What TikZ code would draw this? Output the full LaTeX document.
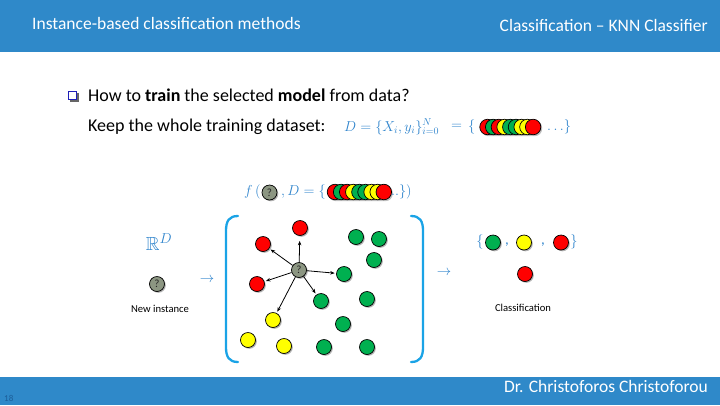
\documentclass[tikz,border=0pt]{standalone}
\usepackage{amssymb}
\usepackage{fontspec}
\setmainfont{Carlito}
\usetikzlibrary{arrows.meta,shadows}

\definecolor{barblue}{HTML}{2F89C9}
\definecolor{pageno}{HTML}{1C5E99}
\definecolor{mathblue}{HTML}{2F84CC}
\definecolor{brackcyan}{HTML}{1AA3E6}
\definecolor{ballred}{HTML}{FF0000}
\definecolor{ballgreen}{HTML}{00B050}
\definecolor{ballyellow}{HTML}{FFFF00}
\definecolor{qgray}{HTML}{8C9682}
\definecolor{bulletblue}{HTML}{1F1FB8}

\newcommand{\fs}[1]{\fontsize{#1}{#1}\selectfont}

\tikzset{
  ball/.style={circle, draw=black, line width=0.7pt, minimum size=15pt, inner sep=0pt,
    drop shadow={shadow xshift=1.3pt, shadow yshift=-1.3pt, opacity=0.3, fill=black}},
  rb/.style={ball, fill=ballred},
  gb/.style={ball, fill=ballgreen},
  yb/.style={ball, fill=ballyellow},
  qb/.style={ball, fill=qgray, font=\fs{11}, text=black!85},
  cb/.style={circle, draw=black, line width=0.7pt, minimum size=15.5pt, inner sep=0pt},
  chainshadow/.style={fill=black, opacity=0.25, rounded corners=7.5pt},
  hdr/.style={text=white, font=\fs{17.5}, inner sep=0pt},
  body/.style={text=black, font=\fs{18}, inner sep=0pt, anchor=west},
  mth/.style={text=mathblue, font=\fs{14.5}, inner sep=0pt, anchor=west},
  small/.style={text=black, font=\fs{10.6}, inner sep=0pt},
  nnarrow/.style={-{Stealth[length=4.5pt,width=3.5pt]}, line width=0.8pt, shorten >=1.5pt},
  bracket/.style={draw=brackcyan, line width=2.3pt, line cap=round}
}

\begin{document}
\begin{tikzpicture}[x=1pt,y=-1pt]
\useasboundingbox (0,0) rectangle (720,405);

% header and footer bars
\fill[barblue] (0,0) rectangle (720,52);
\fill[barblue] (0,377) rectangle (720,405);
\node[hdr, anchor=west] (title) at (32,23) {Instance-based classification methods};
\node[hdr, anchor=east] (topic) at (708,25) {Classification -- KNN Classifier};
\node[hdr, anchor=east] (author) at (708,386) {Dr. Christoforos Christoforou};
\node[text=pageno, font=\fs{9}, inner sep=0pt, anchor=west] (pnum) at (4,398) {18};

% bullet line
\fill[black!60] (70,93) rectangle (78.5,101.5);
\node[draw=bulletblue, fill=white, line width=1pt, minimum size=7.5pt, inner sep=0pt] (bul) at (72.5,95.5) {};
\node[body] (q1) at (88,95) {How to \textbf{train} the selected \textbf{model} from data?};
\node[body] (q2) at (88,127) {Keep the whole training dataset:};

% D = {X_i, y_i} = { ... }
\node[mth] (dset) at (344,127) {$D=\{X_i,y_i\}_{i=0}^{N}$};
\node[mth] (eq2) at (451,127) {$=$};
\node[mth] (lb1) at (468,127) {$\{$};
\fill[chainshadow] (481,120.5) rectangle (542.2,136.2);
\foreach \c [count=\i from 0] in {ballred,ballgreen,ballred,ballyellow,ballgreen,ballgreen,ballyellow,ballyellow,ballred}
  \node[cb, fill=\c] (ca\i) at (487.5+5.7*\i,127) {};
\node[mth] (rb1) at (547,127) {$\ldots\}$};

% f( ?, D = { ... })
\node[mth] (fopen) at (244,192) {$f\,($};
\node[qb] (fq) at (269.5,192.5) {?};
\node[mth] (fmid) at (281,192) {$,D=\{$};
\fill[chainshadow] (328.5,185.5) rectangle (392.8,201.2);
\foreach \c [count=\i from 0] in {ballred,ballgreen,ballred,ballyellow,ballgreen,ballgreen,ballyellow,ballyellow,ballred}
  \node[cb, fill=\c] (cb\i) at (335+6.1*\i,192) {};
\node[mth] (fclose) at (391,192) {$..\})$};

% new instance
\node[text=mathblue, font=\fs{19}, inner sep=0pt] (rd) at (159,242) {$\mathbb{R}^{D}$};
\node[qb] (newq) at (157,284) {?};
\node[small] (newlbl) at (160,309) {New instance};
\node[text=mathblue, font=\fs{15}, inner sep=0pt] (ar1) at (207,280) {$\rightarrow$};

% brackets around the training set
\draw[bracket] (238,216) .. controls (229,216) and (226,221) .. (226,231) -- (226,347) .. controls (226,357) and (229,362) .. (238,362);
\draw[bracket] (411,216) .. controls (420,216) and (423,221) .. (423,231) -- (423,347) .. controls (423,357) and (420,362) .. (411,362);

% training points
\node[rb] (r1) at (300,228) {};
\node[rb] (r2) at (263,244) {};
\node[gb] (g1) at (356,237) {};
\node[gb] (g2) at (379,239) {};
\node[gb] (g3) at (374,260) {};
\node[gb] (g4) at (344,274) {};
\node[rb] (r3) at (257,284) {};
\node[gb] (g5) at (321,301) {};
\node[gb] (g6) at (367,299) {};
\node[yb] (y1) at (273,320) {};
\node[gb] (g7) at (343,324) {};
\node[yb] (y2) at (248,340) {};
\node[yb] (y3) at (284,346) {};
\node[gb] (g8) at (324,347) {};
\node[gb] (g9) at (367,347) {};
\node[qb] (q) at (299,270) {?};

% nearest-neighbour links
\draw[nnarrow, shorten >=5pt] (q) -- (r1);
\draw[nnarrow] (q) -- (r2);
\draw[nnarrow] (q) -- (g4);
\draw[nnarrow] (q) -- (r3);
\draw[nnarrow] (q) -- (g5);
\draw[nnarrow] (q) -- (y1);

\node[text=mathblue, font=\fs{15}, inner sep=0pt] (ar2) at (444,273) {$\rightarrow$};

% classification result
\node[text=mathblue, font=\fs{15}, inner sep=0pt] (lb2) at (480,242) {$\{$};
\node[gb] (cg) at (493,242.5) {};
\node[text=mathblue, font=\fs{15}, inner sep=0pt] (cm1) at (507,245) {,};
\node[yb] (cy) at (524,242.5) {};
\node[text=mathblue, font=\fs{15}, inner sep=0pt] (cm2) at (543,245) {,};
\node[rb] (cr) at (561,242.5) {};
\node[text=mathblue, font=\fs{15}, inner sep=0pt] (rb2) at (574,242) {$\}$};
\node[rb] (res) at (525,274) {};
\node[small] (clbl) at (523,308) {Classification};
\end{tikzpicture}
\end{document}
